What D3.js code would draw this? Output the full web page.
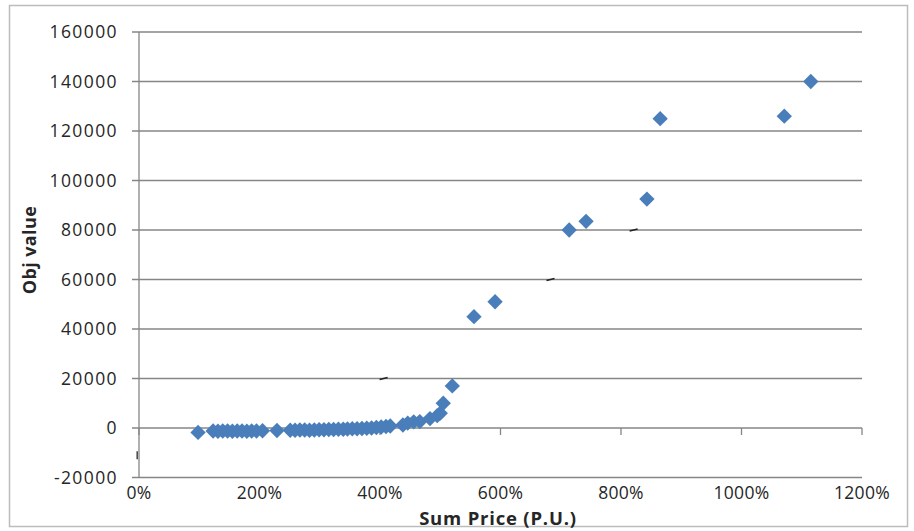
<!DOCTYPE html>
<html>
<head>
<meta charset="utf-8">
<script src="https://cdn.jsdelivr.net/npm/d3@7"></script>
<style>
  html, body { margin: 0; padding: 0; background: #fff; }
  svg { display: block; }
  text { font-family: "Open Sans", "Liberation Sans", sans-serif; fill: #262626; }
</style>
</head>
<body>
<svg id="chart" width="914" height="531"></svg>
<script>
// Sum price (percent of per-unit price) and objective value for each run
const sumPrice = [
  98, 123, 131, 139, 147, 155, 163, 171, 179, 187, 195, 205,
  229, 251, 259, 267, 275, 283, 291, 299, 307, 315, 323, 331, 339,
  346, 354, 362, 370, 378, 386, 394, 402, 410, 417,
  438, 446, 456, 466, 483, 495, 500, 505, 520,
  556, 591, 714, 742, 843, 865, 1071, 1115
];
const objValue = [
  -1800, -1200, -1300, -1200, -1200, -1300, -1200, -1200, -1300, -1200, -1200, -1100,
  -1000, -900, -900, -800, -800, -900, -800, -700, -700, -600, -600, -500, -500,
  -400, -300, -300, -200, -100, 0, 200, 400, 600, 800,
  1200, 2000, 2500, 2600, 3800, 5000, 6000, 10000, 17000,
  45000, 51000, 80000, 83500, 92500, 125000, 126000, 140000
];

// Axis ticks
const xTicks = [0, 200, 400, 600, 800, 1000, 1200];
const yTicks = [-20000, 0, 20000, 40000, 60000, 80000, 100000, 120000, 140000, 160000];

// Stray pen marks sitting on a few gridlines
const strayX = [406, 683, 821];
const strayY = [20000, 60000, 80000];

(function draw() {
  const svg = d3.select("#chart");
  const plotLeft = 139, plotRight = 862, plotTop = 32, plotBottom = 477.5;

  const x = d3.scaleLinear().domain([0, 1200]).range([plotLeft, plotRight]);
  const y = d3.scaleLinear().domain([-20000, 160000]).range([plotBottom, plotTop]);

  // outer chart frame
  svg.append("rect")
    .attr("x", 9.5).attr("y", 5.5).attr("width", 898).attr("height", 521)
    .attr("fill", "#fff").attr("stroke", "#bcbcbc").attr("stroke-width", 1.5);

  const gridColor = "#868686";

  // horizontal gridlines with outward ticks
  svg.append("g").selectAll("line").data(yTicks).join("line")
    .attr("x1", plotLeft - 7).attr("x2", plotRight)
    .attr("y1", d => y(d)).attr("y2", d => y(d))
    .attr("stroke", gridColor).attr("stroke-width", 1.3);

  // y-axis line
  svg.append("line")
    .attr("x1", plotLeft).attr("x2", plotLeft)
    .attr("y1", y(160000)).attr("y2", y(-20000))
    .attr("stroke", gridColor).attr("stroke-width", 1.3);

  // x-axis line sits on zero with tick marks below
  svg.append("g").selectAll("line").data(xTicks).join("line")
    .attr("x1", d => x(d)).attr("x2", d => x(d))
    .attr("y1", y(0)).attr("y2", y(0) + 7)
    .attr("stroke", gridColor).attr("stroke-width", 1.3);

  // y tick labels
  svg.append("g").selectAll("text").data(yTicks).join("text")
    .attr("x", 118).attr("y", d => y(d))
    .attr("dy", "0.35em")
    .attr("text-anchor", "end")
    .attr("font-size", 17.5)
    .attr("letter-spacing", 1.4)
    .text(d => String(d));

  // x tick labels along the bottom
  svg.append("g").selectAll("text").data(xTicks).join("text")
    .attr("x", d => x(d)).attr("y", 493)
    .attr("dy", "0.35em")
    .attr("text-anchor", "middle")
    .attr("font-size", 17.5)
    .attr("letter-spacing", 0.3)
    .text(d => d + "%");

  // axis titles
  svg.append("text")
    .attr("x", 498).attr("y", 518.5).attr("dy", "0.35em")
    .attr("text-anchor", "middle").attr("font-size", 18.5).attr("font-weight", "bold")
    .attr("letter-spacing", 0.8)
    .text("Sum Price  (P.U.)");

  svg.append("text")
    .attr("transform", "translate(30,250) rotate(-90)")
    .attr("dy", "0.35em")
    .attr("text-anchor", "middle").attr("font-size", 18).attr("font-weight", "bold")
    .attr("letter-spacing", 0.4)
    .text("Obj value");

  // stray marks
  svg.append("g").selectAll("line").data(strayX).join("line")
    .attr("x1", d => x(d) - 4).attr("x2", d => x(d) + 4)
    .attr("y1", (d, i) => y(strayY[i]) + 1).attr("y2", (d, i) => y(strayY[i]) - 1)
    .attr("stroke", "#222").attr("stroke-width", 1.5);
  svg.append("line")
    .attr("x1", x(-3)).attr("x2", x(-3))
    .attr("y1", y(-11000) - 4).attr("y2", y(-11000) + 4)
    .attr("stroke", "#444").attr("stroke-width", 1.5);

  // diamond markers
  const diamond = d3.symbol().type(d3.symbolDiamond2).size(150);
  svg.append("g").selectAll("path").data(sumPrice).join("path")
    .attr("transform", (d, i) => `translate(${x(d)},${y(objValue[i])})`)
    .attr("d", diamond)
    .attr("fill", "#4a7ebb");
})();
</script>
</body>
</html>
